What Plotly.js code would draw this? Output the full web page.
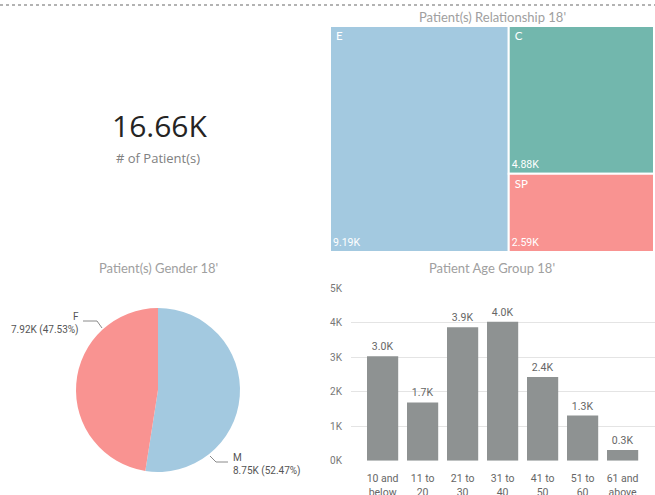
<!DOCTYPE html>
<html>
<head>
<meta charset="utf-8">
<script src="https://cdn.plot.ly/plotly-3.0.1.min.js"></script>
<style>
html,body{margin:0;padding:0;background:#fff;}
#chart{width:655px;height:495px;}
</style>
</head>
<body>
<div id="chart"></div>
<script>
// ---- data ----
var relLabels = ["E", "C", "SP"];
var relValues = [9190, 4880, 2590];
var genderLabels = ["M", "F"];
var genderValues = [8746, 7923];
var ageGroups = ["10 and<br>below", "11 to<br>20", "21 to<br>30", "31 to<br>40", "41 to<br>50", "51 to<br>60", "61 and<br>above"];
var ageValues = [3030, 1690, 3870, 4030, 2430, 1310, 310];
var yTickVals = [0, 1000, 2000, 3000, 4000, 5000];
var kpiLabel = "# of Patient(s)";
var titles = ["Patient(s) Relationship 18'", "Patient(s) Gender 18'", "Patient Age Group 18'"];

// ---- helpers ----
var W = 655, H = 495;
function px(x){ return x / W; }
function py(y){ return 1 - y / H; }
function kfmt(v, d){ return (v / 1000).toFixed(d) + "K"; }

var relColors = ["#A3C9E0", "#72B7AD", "#F99391"];
var genderColors = ["#A3C9E0", "#F99391"];
var titleFont = {family: "Lato, 'Open Sans', sans-serif", size: 13, color: "#A0A0A0"};
var labelFont = {family: "Roboto, sans-serif", size: 10, color: "#555555"};

var kpiTotal = relValues.reduce(function(a,b){return a+b;}, 0);
var gTotal = genderValues.reduce(function(a,b){return a+b;}, 0);

var tmDomain = {x: [px(330), px(654)], y: [py(252), py(26)]};

var traces = [];
// treemap: labels (top-left)
traces.push({
  type: "treemap",
  labels: relLabels,
  parents: relLabels.map(function(){return "";}),
  values: relValues,
  sort: true,
  tiling: {packing: "squarify", pad: 0},
  marker: {colors: relColors, line: {color: "#ffffff", width: 2}, pad: {t:0,l:0,r:0,b:0}},
  pathbar: {visible: false},
  texttemplate: " %{label}",
  textposition: "top left",
  textfont: {family: "Lato, sans-serif", size: 11.5, color: "#ffffff"},
  hoverinfo: "skip",
  domain: tmDomain
});
// treemap: values (bottom-left), transparent overlay
traces.push({
  type: "treemap",
  labels: relLabels,
  parents: relLabels.map(function(){return "";}),
  values: relValues,
  sort: true,
  tiling: {packing: "squarify", pad: 0},
  marker: {colors: relLabels.map(function(){return "rgba(0,0,0,0)";}), line: {color: "rgba(0,0,0,0)", width: 2}, pad: {t:0,l:0,r:0,b:0}},
  pathbar: {visible: false},
  customdata: relValues.map(function(v){return kfmt(v, 2);}),
  texttemplate: "%{customdata}",
  textposition: "bottom left",
  textfont: {family: "Roboto, sans-serif", size: 10.5, color: "#ffffff"},
  hoverinfo: "skip",
  domain: tmDomain
});
// pie
traces.push({
  type: "pie",
  labels: genderLabels,
  values: genderValues,
  sort: false,
  direction: "clockwise",
  rotation: 0,
  marker: {colors: genderColors, line: {width: 0}},
  textinfo: "none",
  hoverinfo: "skip",
  showlegend: false,
  domain: {x: [px(76), px(240)], y: [py(472), py(308)]}
});
// bars
traces.push({
  type: "bar",
  x: ageGroups,
  y: ageValues,
  marker: {color: "#8E9292"},
  text: ageValues.map(function(v){return kfmt(v, 1);}),
  textposition: "outside",
  cliponaxis: false,
  textfont: {family: "Roboto, sans-serif", size: 10.5, color: "#666666"},
  hoverinfo: "skip",
  xaxis: "x", yaxis: "y"
});

function ann(text, x, y, font, xanchor, align){
  return {text: text, x: px(x), y: py(y), xref: "paper", yref: "paper", showarrow: false,
          xanchor: xanchor || "center", yanchor: "middle", align: align || "center", font: font};
}
function pieLabel(i){
  return genderLabels[i] + "<br>" + kfmt(genderValues[i], 2) + " (" + (genderValues[i]/gTotal*100).toFixed(2) + "%)";
}

var annotations = [
  ann(kfmt(kpiTotal, 2), 159, 125, {family: "'Open Sans', sans-serif", size: 30, color: "#252423"}),
  ann(kpiLabel, 158, 158, {family: "'Open Sans', sans-serif", size: 13, color: "#808080"}),
  ann(titles[0], 492, 17, titleFont),
  ann(titles[1], 158, 268, titleFont),
  ann(titles[2], 492, 268, titleFont),
  ann(pieLabel(1), 81, 323.5, labelFont, "right", "right"),
  ann(pieLabel(0), 231, 464, labelFont, "left", "left")
];

function pathPx(pts){
  return pts.map(function(p, i){ return (i ? "L" : "M") + px(p[0]) + "," + py(p[1]); }).join(" ");
}

var shapes = [
  {type: "line", xref: "paper", yref: "paper", x0: 0, x1: 1, y0: py(5), y1: py(5),
   line: {color: "#9A9A9A", width: 1.5, dash: "dot"}},
  {type: "path", xref: "paper", yref: "paper", path: pathPx([[83,321],[97,321],[102,328]]),
   line: {color: "#8A8A8A", width: 1}},
  {type: "path", xref: "paper", yref: "paper", path: pathPx([[210,456],[216,462],[228,462]]),
   line: {color: "#8A8A8A", width: 1}}
];

var layout = {
  width: W, height: H,
  margin: {l: 0, r: 0, t: 0, b: 0},
  paper_bgcolor: "#ffffff",
  plot_bgcolor: "rgba(0,0,0,0)",
  showlegend: false,
  bargap: 0.22,
  xaxis: {domain: [px(351), 1], range: [-0.79, 6.81], showgrid: false, zeroline: false, showline: false,
          ticks: "", tickfont: {family: "Roboto, sans-serif", size: 10.5, color: "#666666"}, ticklabelstandoff: 10, fixedrange: true},
  yaxis: {domain: [py(460.7), py(288.3)], range: [0, 5000], tickvals: yTickVals,
          ticktext: yTickVals.map(function(v){return (v/1000) + "K";}),
          showgrid: true, gridcolor: "#E4E4E4", gridwidth: 1, zeroline: false, showline: false, ticks: "",
          tickfont: {family: "Roboto, sans-serif", size: 10, color: "#777777"}, ticklabelstandoff: 8, fixedrange: true},
  annotations: annotations,
  shapes: shapes
};

Plotly.newPlot("chart", traces, layout, {displayModeBar: false, staticPlot: true});
</script>
</body>
</html>
